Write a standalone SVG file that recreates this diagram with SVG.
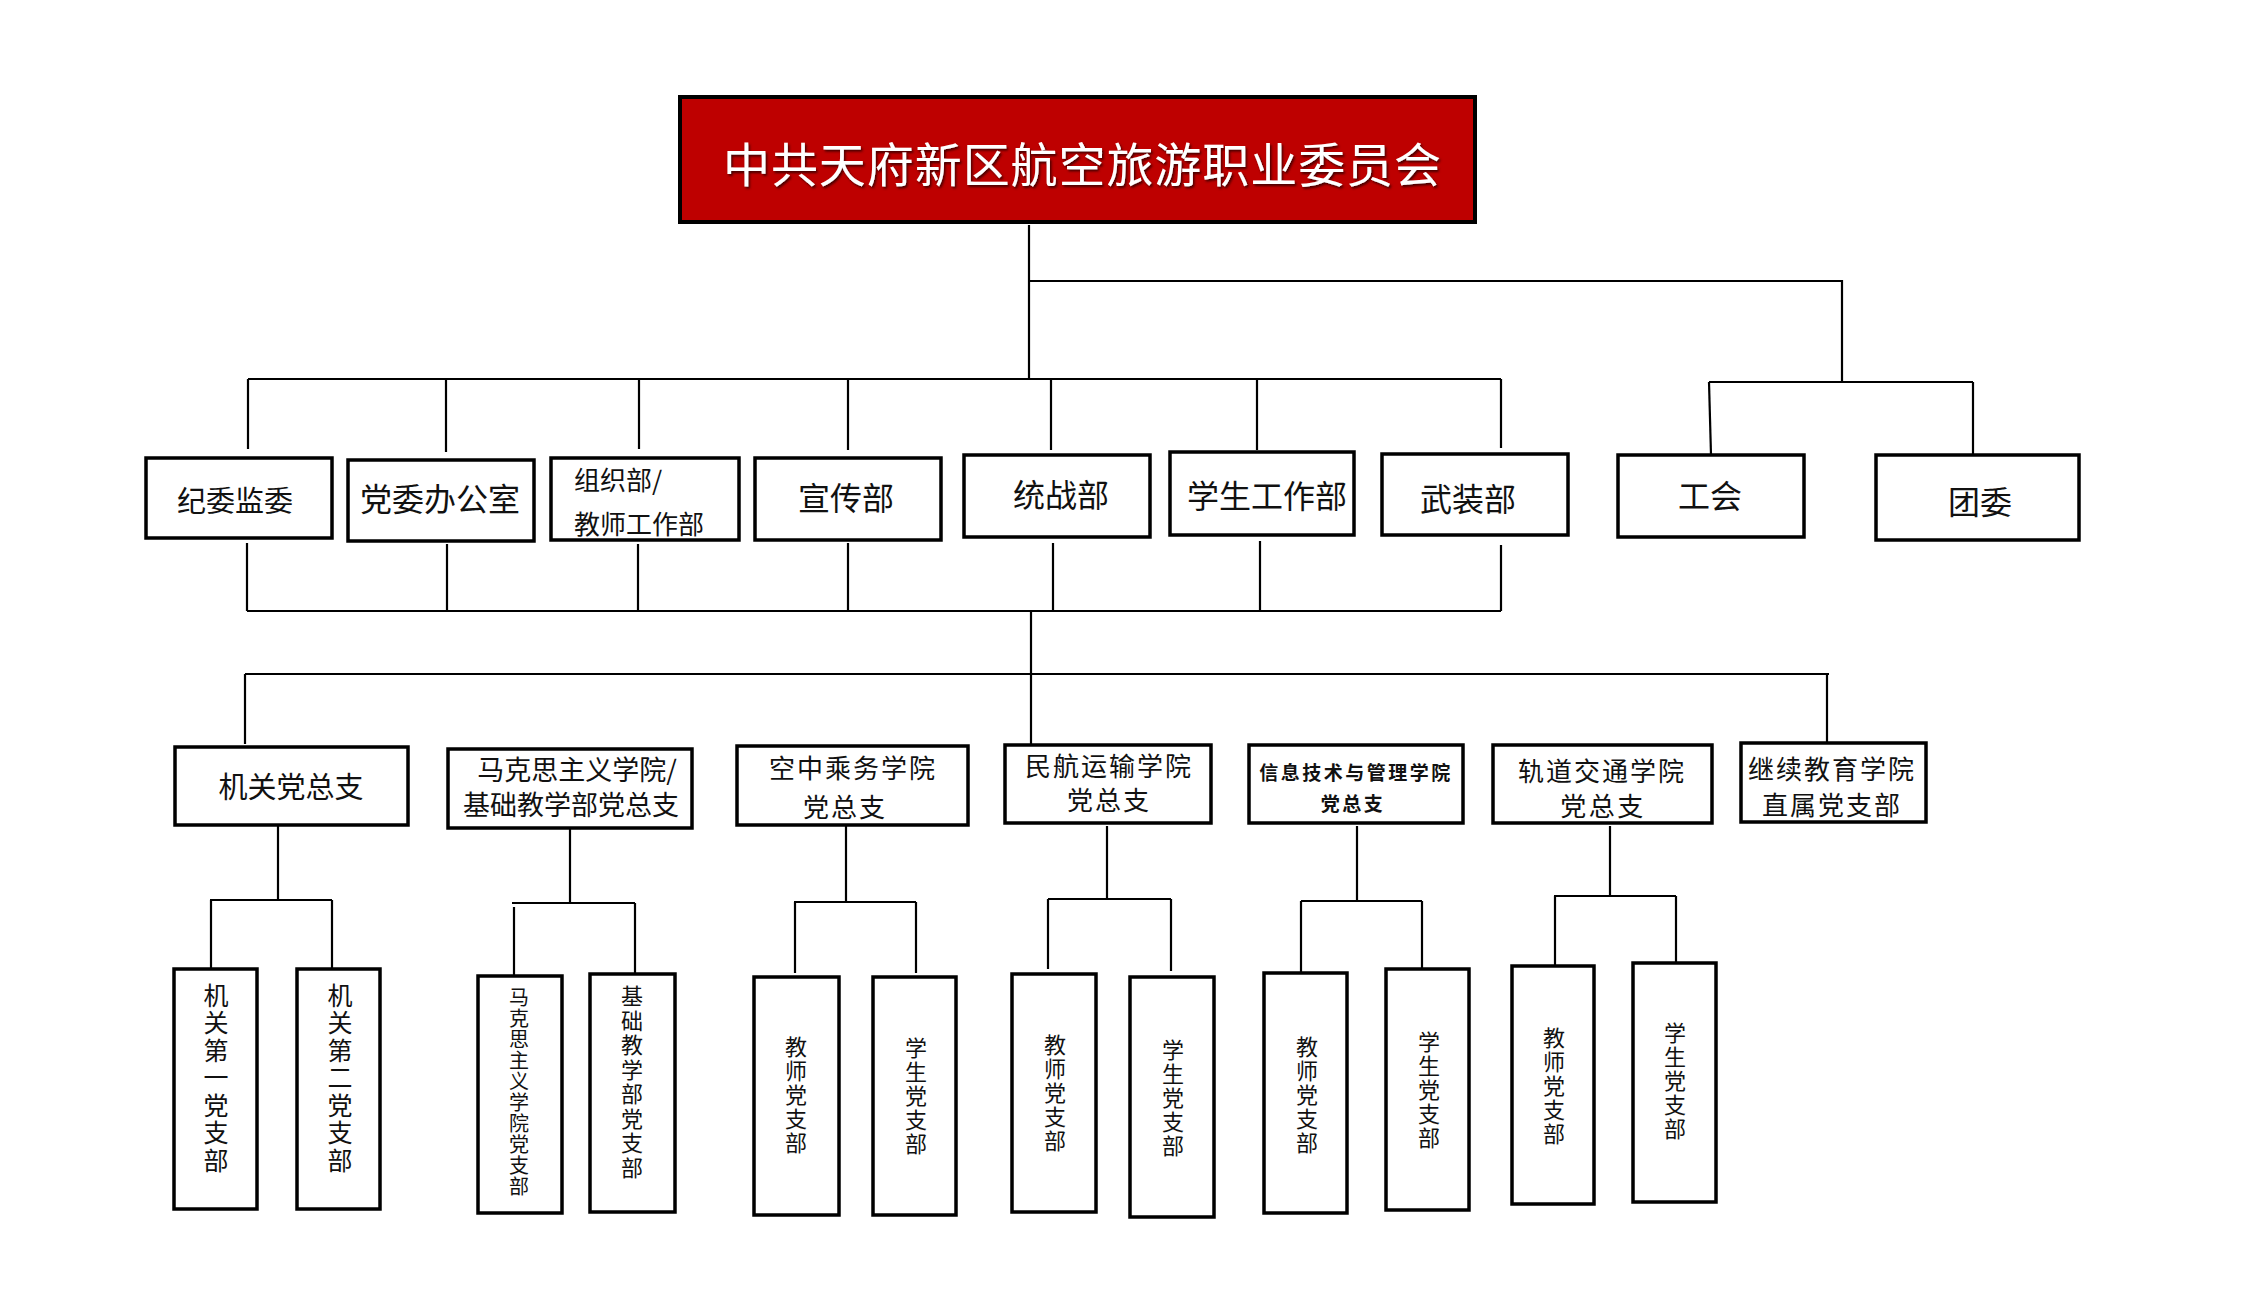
<svg xmlns="http://www.w3.org/2000/svg" width="2245" height="1315" viewBox="0 0 2245 1315">
<style>
.bg{fill:#fff}
.box{fill:#fff;stroke:#000;stroke-width:3.5}
.title{fill:#BE0000;stroke:#000;stroke-width:4}
.conn{stroke:#000;stroke-width:2.2;fill:none}
.t{font-family:"Noto Sans CJK SC","Noto Sans",sans-serif;fill:#111;dominant-baseline:central;text-anchor:middle}
.tl{font-family:"Noto Sans CJK SC","Noto Sans",sans-serif;fill:#111;dominant-baseline:central;text-anchor:start}
.tt{font-family:"Noto Sans CJK SC","Noto Sans",sans-serif;fill:#fff;dominant-baseline:central;text-anchor:middle;font-size:47px}
.d{font-size:32px}
.m{font-size:27px}
.v{writing-mode:vertical-rl;text-orientation:upright}
</style>
<defs>
<filter id="sh" x="-5%" y="-20%" width="110%" height="150%">
<feDropShadow dx="1.5" dy="2" stdDeviation="1.2" flood-color="#3a0000" flood-opacity="0.9"/>
</filter>
</defs>
<rect class="bg" x="0" y="0" width="2245" height="1315"/>

<g id="connectors">
<path class="conn" d="M1029 225V379"/>
<path class="conn" d="M248 379H1501"/>
<path class="conn" d="M1029 281H1842V382"/>
<path class="conn" d="M1709 382H1973"/>
<path class="conn" d="M1709 382L1711 455"/>
<path class="conn" d="M1973 382V455"/>
<path class="conn" d="M248 379V449M446 379V452M639 379V449M848 379V450M1051 379V450M1257 379V450M1501 379V448"/>
<path class="conn" d="M247 543V611M447 544V611M638 544V611M848 543V611M1053 543V611M1260 541V611M1501 545V611"/>
<path class="conn" d="M247 611H1501"/>
<path class="conn" d="M1031 611V745"/>
<path class="conn" d="M245 674H1829"/>
<path class="conn" d="M245 674V744M1827 674V743"/>
<path class="conn" d="M278 826V900M210 900H332M211 900V968M332 900V968"/>
<path class="conn" d="M570 829V903M512 903H635M514 907V975M635 903V973"/>
<path class="conn" d="M846 826V902M794 902H916M795 902V973M916 902V973"/>
<path class="conn" d="M1107 826V899M1048 899H1171M1048 899V969M1171 899V971"/>
<path class="conn" d="M1357 826V901M1301 901H1422M1301 901V972M1422 901V968"/>
<path class="conn" d="M1610 826V896M1554 896H1676M1555 896V965M1676 896V963"/>
</g>

<g id="root">
<rect class="title" x="680" y="97" width="795" height="125"/>
<text class="tt" x="1082" y="161" textLength="718" lengthAdjust="spacing" filter="url(#sh)">中共天府新区航空旅游职业委员会</text>
</g>

<g id="jiwei"><rect class="box" x="146" y="458" width="186" height="80"/><text class="t" x="235" y="499" font-size="29">纪委监委</text></g>
<g id="dangwei-office"><rect class="box" x="348" y="460" width="186" height="81"/><text class="t d" x="440" y="497">党委办公室</text></g>
<g id="zuzhi"><rect class="box" x="551" y="458" width="188" height="82"/><text class="tl" x="574" y="478" font-size="26">组织部/</text><text class="tl" x="574" y="522" font-size="26">教师工作部</text></g>
<g id="xuanchuan"><rect class="box" x="755" y="458" width="186" height="82"/><text class="t d" x="846" y="496">宣传部</text></g>
<g id="tongzhan"><rect class="box" x="964" y="455" width="186" height="82"/><text class="t d" x="1061" y="493">统战部</text></g>
<g id="xuesheng"><rect class="box" x="1170" y="452" width="184" height="83"/><text class="t d" x="1267" y="494">学生工作部</text></g>
<g id="wuzhuang"><rect class="box" x="1382" y="454" width="186" height="81"/><text class="t d" x="1468" y="497">武装部</text></g>
<g id="gonghui"><rect class="box" x="1618" y="455" width="186" height="82"/><text class="t d" x="1710" y="494">工会</text></g>
<g id="tuanwei"><rect class="box" x="1876" y="455" width="203" height="85"/><text class="t d" x="1980" y="500">团委</text></g>

<g id="jiguan"><rect class="box" x="175" y="747" width="233" height="78"/><text class="t" x="291" y="785" font-size="29">机关党总支</text></g>
<g id="makesi"><rect class="box" x="448" y="749" width="244" height="79"/><text class="t m" x="577" y="768">马克思主义学院/</text><text class="t m" x="571" y="803">基础教学部党总支</text></g>
<g id="kongcheng"><rect class="box" x="737" y="746" width="231" height="79"/><text class="t" x="853" y="766" font-size="26" letter-spacing="2">空中乘务学院</text><text class="t" x="845" y="805" font-size="26" letter-spacing="2">党总支</text></g>
<g id="minhang"><rect class="box" x="1005" y="745" width="206" height="78"/><text class="t" x="1109" y="764" font-size="26" letter-spacing="2">民航运输学院</text><text class="t" x="1109" y="798" font-size="26" letter-spacing="2">党总支</text></g>
<g id="xinxi"><rect class="box" x="1249" y="745" width="214" height="78"/><text class="t" x="1356" y="771" font-size="19" font-weight="bold" letter-spacing="2.5">信息技术与管理学院</text><text class="t" x="1353" y="802" font-size="19" font-weight="bold" letter-spacing="2.5">党总支</text></g>
<g id="guidao"><rect class="box" x="1493" y="745" width="219" height="78"/><text class="t" x="1602" y="769" font-size="26" letter-spacing="2">轨道交通学院</text><text class="t" x="1603" y="804" font-size="26" letter-spacing="2.5">党总支</text></g>
<g id="jixu"><rect class="box" x="1741" y="743" width="185" height="79"/><text class="t" x="1832" y="767" font-size="26" letter-spacing="2">继续教育学院</text><text class="t" x="1832" y="803" font-size="26" letter-spacing="2">直属党支部</text></g>

<g id="jiguan-1"><rect class="box" x="174" y="969" width="83" height="240"/><text class="t v" x="216" y="1079" font-size="25" letter-spacing="2.5">机关第一党支部</text></g>
<g id="jiguan-2"><rect class="box" x="297" y="969" width="83" height="240"/><text class="t v" x="340" y="1079" font-size="25" letter-spacing="2.5">机关第二党支部</text></g>
<g id="makesi-1"><rect class="box" x="478" y="976" width="84" height="237"/><text class="t v" x="519" y="1092" font-size="20" letter-spacing="1">马克思主义学院党支部</text></g>
<g id="jichu-1"><rect class="box" x="590" y="974" width="85" height="238"/><text class="t v" x="632" y="1083" font-size="22" letter-spacing="2.5">基础教学部党支部</text></g>
<g id="kongcheng-t"><rect class="box" x="754" y="977" width="85" height="238"/><text class="t v" x="796" y="1096" font-size="22" letter-spacing="2">教师党支部</text></g>
<g id="kongcheng-s"><rect class="box" x="873" y="977" width="83" height="238"/><text class="t v" x="916" y="1097" font-size="22" letter-spacing="2">学生党支部</text></g>
<g id="minhang-t"><rect class="box" x="1012" y="974" width="84" height="238"/><text class="t v" x="1055" y="1094" font-size="22" letter-spacing="2">教师党支部</text></g>
<g id="minhang-s"><rect class="box" x="1130" y="977" width="84" height="240"/><text class="t v" x="1173" y="1099" font-size="22" letter-spacing="2">学生党支部</text></g>
<g id="xinxi-t"><rect class="box" x="1264" y="973" width="83" height="240"/><text class="t v" x="1307" y="1096" font-size="22" letter-spacing="2">教师党支部</text></g>
<g id="xinxi-s"><rect class="box" x="1386" y="969" width="83" height="241"/><text class="t v" x="1429" y="1091" font-size="22" letter-spacing="2">学生党支部</text></g>
<g id="guidao-t"><rect class="box" x="1512" y="966" width="82" height="238"/><text class="t v" x="1554" y="1087" font-size="22" letter-spacing="2">教师党支部</text></g>
<g id="guidao-s"><rect class="box" x="1633" y="963" width="83" height="239"/><text class="t v" x="1675" y="1082" font-size="22" letter-spacing="2">学生党支部</text></g>
</svg>
